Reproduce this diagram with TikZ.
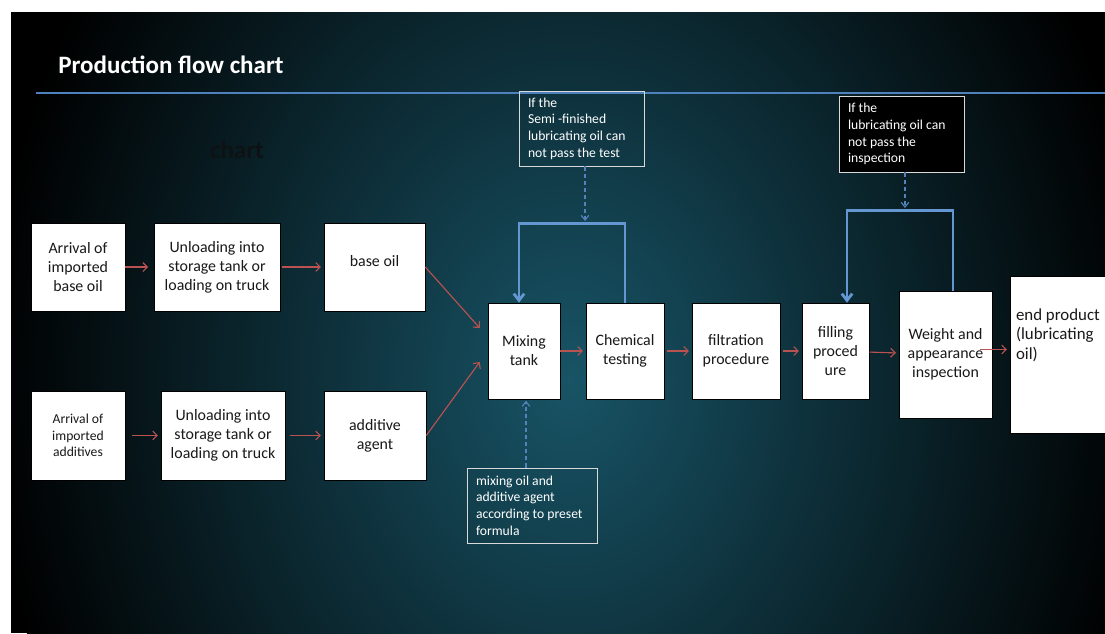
\documentclass[tikz,border=0pt]{standalone}
\usepackage{fontspec}
\setmainfont{Carlito}
\usepackage{xcolor}
\usepackage{tikz}
\usetikzlibrary{arrows.meta,calc}
\definecolor{rulecol}{RGB}{79,129,189}
\definecolor{loopcol}{RGB}{100,150,210}
\definecolor{hintcol}{RGB}{85,130,185}
\definecolor{flowcol}{RGB}{185,82,80}
\definecolor{glowcol}{RGB}{24,84,102}
\definecolor{ghostcol}{RGB}{14,18,20}
\newcommand{\px}{0.025cm}
\tikzset{
  proc/.style={draw=black, fill=white, align=center, inner sep=1pt,
    text=black!90, font=\fontsize{11.3}{13.6}\selectfont},
  small/.style={proc, font=\fontsize{9.7}{11.9}\selectfont},
  note/.style={draw=black!15, line width=0.7pt, align=flush left, text=white,
    inner xsep=9*\px, font=\fontsize{9.7}{11.9}\selectfont},
  heading/.style={text=white, font=\fontsize{17.8}{21}\selectfont\bfseries},
  flow/.style={-{Straight Barb[length=1.1mm,width=2.2mm]}, flowcol, line width=0.8pt,
    shorten >=2pt},
  loopback/.style={-{Straight Barb[length=1.7mm,width=2.6mm]}, loopcol, line width=2pt},
  hint/.style={-{Straight Barb[length=1.2mm,width=1.9mm]}, hintcol, densely dashed,
    line width=0.8pt}
}

\begin{document}
\begin{tikzpicture}[x=\px, y=-\px]
  \path[use as bounding box] (0,0) rectangle (1105,633);
  \clip (0,0) rectangle (1105,633);
  \fill[black] (11,12) rectangle (1105,633);
  \begin{scope}
    \clip (11,12) rectangle (1105,633);
    \shade[inner color=glowcol, outer color=black] (570,380) ellipse (580 and 720);
  \end{scope}

  \node[heading, anchor=base west, inner sep=0pt] (title) at (58,73) {Production flow chart};
  \node[heading, text=ghostcol] (ghost) at (237,150) {chart};
  \draw[rulecol, line width=2.1pt] (36,93) -- (1105,93);

  \node[proc, minimum width=94*\px, minimum height=88*\px] (a1) at (78,267)
    {Arrival of\\imported\\base oil};
  \node[proc, minimum width=126*\px, minimum height=88*\px] (u1) at (217,267)
    {Unloading into\\storage tank or\\loading on truck};
  \node[proc, minimum width=101*\px, minimum height=88*\px, text depth=9pt] (base) at (374.5,267)
    {base oil};
  \node[small, minimum width=94*\px, minimum height=89*\px] (a2) at (78,435.5)
    {Arrival of\\imported\\additives};
  \node[proc, minimum width=124*\px, minimum height=89*\px] (u2) at (223,435.5)
    {Unloading into\\storage tank or\\loading on truck};
  \node[proc, minimum width=102*\px, minimum height=89*\px] (add) at (375,435.5)
    {additive\\agent};

  \node[proc, minimum width=72*\px, minimum height=96*\px] (mix) at (524,351)
    {Mixing\\tank};
  \node[proc, minimum width=78*\px, minimum height=96*\px] (chem) at (625,351)
    {Chemical\\testing};
  \node[proc, minimum width=88*\px, minimum height=96*\px] (filt) at (736,351)
    {filtration\\procedure};
  \node[proc, minimum width=67*\px, minimum height=96*\px] (fill) at (835.5,351)
    {filling\\proced\\ure};
  \node[proc, minimum width=93*\px, minimum height=127*\px] (wgt) at (945.5,354.5)
    {Weight and\\appearance\\inspection};
  \node[proc, align=flush left, font=\fontsize{12}{13.8}\selectfont, inner xsep=6*\px,
    text width=98*\px, minimum height=157*\px, text depth=57pt] (endp) at (1065,354.5)
    {end product\\(lubricating\\oil)};

  \node[note, text width=107*\px, minimum height=75*\px] (note1) at (581.5,128.5)
    {If the\\Semi -finished\\lubricating oil can\\not pass the test};
  \node[note, fill=black, text width=107*\px, minimum height=76*\px] (note2) at (901.5,134)
    {If the\\lubricating oil can\\not pass the\\inspection};
  \node[note, text width=112*\px, minimum height=75*\px] (note3) at (532,505.5)
    {mixing oil and\\additive agent\\according to preset\\formula};

  \coordinate (j1) at (585,221);
  \coordinate (j2) at (905,208);

  \draw[flow, shorten >=4pt] (a1) -- (u1);
  \draw[flow, shorten <=1pt] (u1) -- (base);
  \draw[flow, shorten <=5pt] (a2) -- (u2);
  \draw[flow, shorten <=3pt] (u2) -- (add);
  \draw[flow, shorten >=0pt] (base.east) -- ($(mix.west)+(-8,-23)$);
  \draw[flow, shorten >=0pt] (add.east) -- ($(mix.west)+(-8,11)$);
  \draw[flow] (mix) -- (chem);
  \draw[flow, shorten <=2pt] (chem) -- (filt);
  \draw[flow, shorten <=2pt] (filt) -- (fill);
  \draw[flow] (fill) -- (wgt);
  \draw[flow] ($(wgt.east)+(-12,-5)$) -- ($(endp.west)+(0,-5)$);

  \draw[loopback] (chem.north) |- ($(mix.north)+(-5,-79)$) -- ($(mix.north)+(-5,0)$);
  \draw[loopback] ($(wgt.north)+(7.5,0)$) |- ($(fill.north)+(11.5,-92)$) -- ($(fill.north)+(11.5,0)$);

  \draw[hint] (note1.south -| j1) -- (j1);
  \draw[hint] (note2.south -| j2) -- (j2);
  \draw[hint, shorten >=1pt] ($(note3.north)+(-6,0)$) -- ($(mix.south)+(2,0)$);
\end{tikzpicture}
\end{document}
